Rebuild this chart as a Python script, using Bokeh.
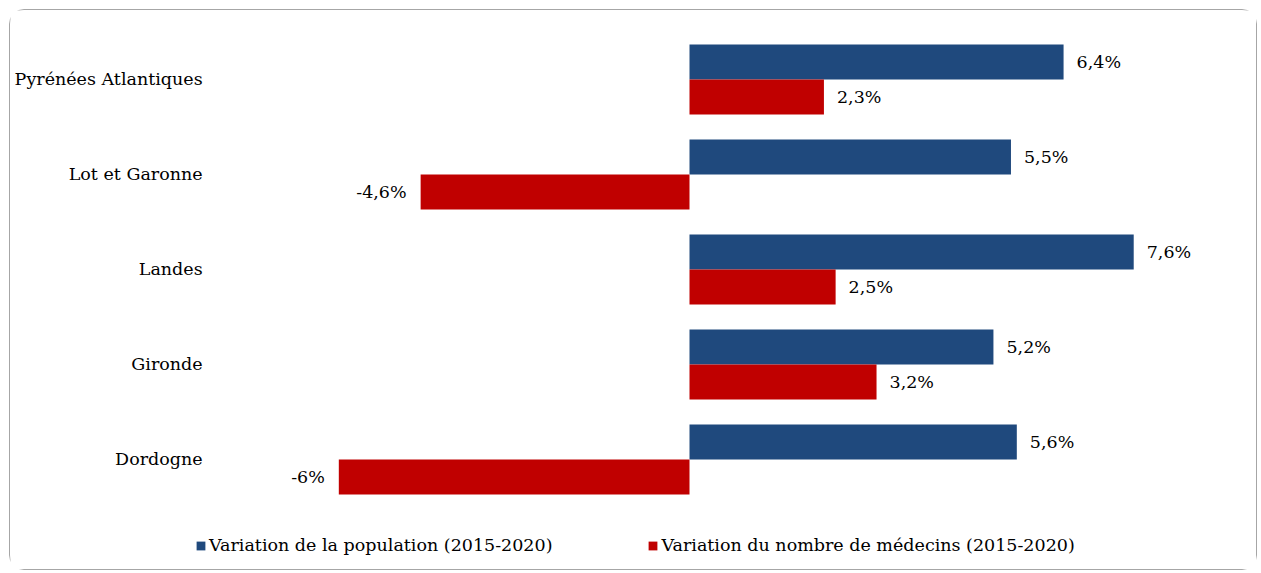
from bokeh.plotting import figure
from bokeh.models import ColumnDataSource, Range1d, Legend, LegendItem
from bokeh.transform import dodge
from bokeh.core.properties import value
from bokeh.embed import file_html
from bokeh.resources import INLINE

categories = ["Pyrénées Atlantiques", "Lot et Garonne", "Landes", "Gironde", "Dordogne"]
population = [6.4, 5.5, 7.6, 5.2, 5.6]
medecins = [2.3, -4.6, 2.5, 3.2, -6.0]
series_names = ["Variation de la population (2015-2020)",
                "Variation du nombre de médecins (2015-2020)"]
colors = ["#1F497D", "#C00000"]

FONT = "DejaVu Serif"
FS = "17.5px"


def fmt(v):
    if float(v).is_integer():
        s = f"{int(v)}%"
    else:
        s = f"{v:.1f}%"
    return s.replace(".", ",")


idx = list(range(len(categories)))

p = figure(width=1248, height=561, output_backend="svg", toolbar_location=None,
           x_range=Range1d(-11.617, 9.735), y_range=Range1d(5.179, -0.726),
           min_border=0)
p.styles = {"border": "1px solid #a6a6a6", "border-radius": "15px",
            "margin": "9px 0 0 9px"}
p.outline_line_color = None
p.xgrid.visible = False
p.ygrid.visible = False
p.xaxis.visible = False
p.yaxis.visible = False

# category labels
p.text(x=[-8.33] * len(categories), y=idx, text=categories,
       text_align="right", text_baseline="middle",
       text_font=value(FONT), text_font_size=value(FS), text_color="#000000")

bar_h = 0.368
off = 0.184
renderers = []
for vals, col, sgn in [(population, colors[0], -1), (medecins, colors[1], 1)]:
    src = ColumnDataSource(dict(i=idx, v=vals))
    r = p.hbar(y=dodge("i", sgn * off), right="v", left=0,
               height=bar_h, source=src, fill_color=col, line_color=None)
    renderers.append(r)
    pos = [(i, v) for i, v in zip(idx, vals) if v >= 0]
    neg = [(i, v) for i, v in zip(idx, vals) if v < 0]
    for group, xo, al in [(pos, 13, "left"), (neg, -14, "right")]:
        if not group:
            continue
        lsrc = ColumnDataSource(dict(i=[g[0] for g in group], v=[g[1] for g in group],
                                     t=[fmt(g[1]) for g in group]))
        p.text(x="v", y=dodge("i", sgn * off), text="t", source=lsrc,
               x_offset=xo, text_align=al, text_baseline="middle",
               text_font=value(FONT), text_font_size=value(FS), text_color="#000000")

legend = Legend(items=[LegendItem(label=series_names[0], renderers=[renderers[0]]),
                       LegendItem(label=series_names[1], renderers=[renderers[1]])],
                orientation="horizontal", location=(185, 16),
                glyph_width=11, glyph_height=11, label_standoff=3, spacing=95,
                label_text_font=FONT, label_text_font_size=FS, label_text_color="#000000",
                border_line_color=None, background_fill_alpha=0, padding=0, margin=0)
p.add_layout(legend, "center")

open("out.html", "w").write(file_html(p, INLINE))
